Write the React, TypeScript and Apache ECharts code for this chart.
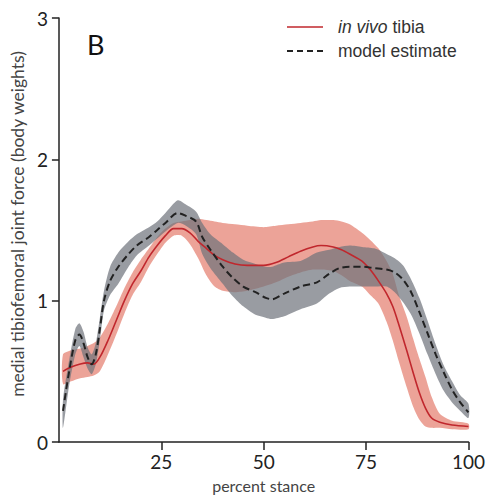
import React, { useEffect, useRef } from "react";
import * as echarts from "echarts";

// percent stance samples, in vivo tibia (mean and ±SD band)
const vivoStance = [1, 3, 5, 7, 8.5, 10, 12, 14, 16, 18, 20, 22, 24, 26, 28, 30, 32, 34, 36, 38, 40, 43, 46, 50, 53, 56, 59, 62, 64, 67, 69, 71, 74, 76, 78, 80, 81.5, 83, 85, 86.5, 88, 89.5, 91, 93, 96, 100];
const vivoMean = [0.50, 0.53, 0.55, 0.56, 0.55, 0.60, 0.72, 0.86, 1.00, 1.12, 1.21, 1.31, 1.39, 1.46, 1.51, 1.51, 1.48, 1.42, 1.37, 1.32, 1.29, 1.26, 1.25, 1.25, 1.27, 1.31, 1.35, 1.38, 1.39, 1.38, 1.36, 1.33, 1.28, 1.22, 1.14, 1.05, 0.96, 0.83, 0.64, 0.49, 0.35, 0.24, 0.17, 0.14, 0.12, 0.11];
const vivoUpper = [0.62, 0.65, 0.66, 0.68, 0.70, 0.74, 0.84, 0.96, 1.09, 1.20, 1.29, 1.37, 1.45, 1.51, 1.55, 1.56, 1.57, 1.58, 1.57, 1.56, 1.55, 1.54, 1.53, 1.52, 1.53, 1.54, 1.55, 1.56, 1.57, 1.57, 1.56, 1.54, 1.48, 1.43, 1.37, 1.28, 1.19, 1.04, 0.88, 0.73, 0.59, 0.46, 0.32, 0.20, 0.15, 0.13];
const vivoLower = [0.41, 0.43, 0.45, 0.46, 0.47, 0.50, 0.62, 0.76, 0.91, 1.04, 1.13, 1.24, 1.33, 1.41, 1.46, 1.46, 1.40, 1.30, 1.18, 1.10, 1.07, 1.06, 1.07, 1.10, 1.13, 1.17, 1.20, 1.22, 1.22, 1.21, 1.18, 1.14, 1.10, 1.04, 0.98, 0.85, 0.72, 0.57, 0.38, 0.25, 0.16, 0.11, 0.10, 0.10, 0.09, 0.09];

// percent stance samples, model estimate (mean and ±SD band)
const modelStance = [1, 2.5, 4, 5, 6, 7, 8, 9, 10, 11, 12.5, 14.5, 17, 19, 22, 24, 26, 29, 31, 33.5, 35, 37, 40, 42.5, 45, 48, 50.5, 52, 55, 59, 63, 66, 68.5, 71, 74, 77, 80, 82, 84, 86, 88, 90, 92, 94, 96, 98, 100];
const modelMean = [0.22, 0.50, 0.72, 0.76, 0.70, 0.60, 0.55, 0.62, 0.80, 1.00, 1.14, 1.24, 1.33, 1.39, 1.45, 1.50, 1.55, 1.62, 1.60, 1.56, 1.45, 1.36, 1.24, 1.16, 1.10, 1.06, 1.02, 1.01, 1.05, 1.10, 1.13, 1.19, 1.23, 1.24, 1.24, 1.23, 1.22, 1.20, 1.15, 1.06, 0.92, 0.77, 0.62, 0.49, 0.37, 0.28, 0.21];
const modelUpper = [0.30, 0.58, 0.80, 0.84, 0.78, 0.67, 0.62, 0.70, 0.88, 1.07, 1.24, 1.34, 1.42, 1.47, 1.52, 1.56, 1.62, 1.71, 1.68, 1.63, 1.55, 1.47, 1.40, 1.34, 1.29, 1.26, 1.24, 1.24, 1.27, 1.28, 1.34, 1.36, 1.38, 1.39, 1.38, 1.37, 1.33, 1.30, 1.25, 1.15, 1.02, 0.86, 0.69, 0.54, 0.43, 0.33, 0.27];
const modelLower = [0.10, 0.40, 0.62, 0.68, 0.60, 0.52, 0.48, 0.55, 0.72, 0.93, 1.04, 1.12, 1.24, 1.32, 1.39, 1.44, 1.49, 1.55, 1.53, 1.47, 1.33, 1.23, 1.12, 1.03, 0.96, 0.90, 0.88, 0.87, 0.89, 0.94, 0.98, 1.05, 1.09, 1.10, 1.10, 1.10, 1.10, 1.06, 0.99, 0.90, 0.77, 0.62, 0.48, 0.36, 0.28, 0.22, 0.17];

const xTicks = [25, 50, 75, 100];
const yTicks = [0, 1, 2, 3];
const seriesNames = ["in vivo tibia", "model estimate"];

const AXIS_FONT = "Lato, 'Open Sans', sans-serif";
const LEGEND_FONT = "'Liberation Sans', Arial, sans-serif";
const RED = "#c0272d";
const DARK = "#222";

function bandSeries(name: string, xs: number[], lo: number[], up: number[], fill: string, z: number) {
  return {
    type: "custom",
    name,
    silent: true,
    z,
    data: xs.map((x, i) => [x, lo[i], up[i]]),
    encode: { x: 0, y: [1, 2] },
    renderItem: (params: any, api: any) => {
      if (params.dataIndex !== 0) return null;
      const top = xs.map((x, i) => api.coord([x, up[i]]));
      const bottom = xs.map((x, i) => api.coord([x, lo[i]])).reverse();
      return {
        type: "polygon",
        shape: { points: top.concat(bottom), smooth: 0.25 },
        style: { fill },
      };
    },
  };
}

export default function App() {
  const ref = useRef<HTMLDivElement>(null);

  useEffect(() => {
    if (!ref.current) return;
    const chart = echarts.init(ref.current, undefined, { renderer: "svg" });

    const pairs = (xs: number[], ys: number[]) => xs.map((x, i) => [x, ys[i]]);

    chart.setOption({
      animation: false,
      backgroundColor: "#fff",
      grid: { left: 54, right: 18, top: 18, bottom: 56, containLabel: false },
      xAxis: {
        type: "value",
        min: 0,
        max: 100,
        interval: 25,
        name: "percent stance",
        nameLocation: "middle",
        nameGap: 35,
        nameTextStyle: { fontFamily: AXIS_FONT, fontSize: 16, color: "#444" },
        axisLine: { lineStyle: { color: DARK, width: 1.5 } },
        axisTick: { length: 8, lineStyle: { color: DARK, width: 1.5 } },
        axisLabel: {
          showMinLabel: false,
          margin: 10,
          fontFamily: AXIS_FONT,
          fontSize: 19,
          color: DARK,
          formatter: (v: number) => (xTicks.includes(v) ? String(v) : ""),
        },
        splitLine: { show: false },
      },
      yAxis: {
        type: "value",
        min: 0,
        max: 3,
        interval: 1,
        name: "medial tibiofemoral joint force (body weights)",
        nameLocation: "middle",
        nameGap: 30,
        nameTextStyle: { fontFamily: AXIS_FONT, fontSize: 17.5, color: "#444", padding: [0, 0, 0, 12] },
        axisLine: { show: true, lineStyle: { color: DARK, width: 1.5 } },
        axisTick: { show: true, length: 7, lineStyle: { color: DARK, width: 1.5 } },
        axisLabel: {
          margin: 11,
          fontFamily: AXIS_FONT,
          fontSize: 19,
          color: DARK,
          formatter: (v: number) => (yTicks.includes(v) ? String(v) : ""),
        },
        splitLine: { show: false },
      },
      graphic: [
        {
          type: "text",
          left: 87,
          top: 31,
          z: 100,
          style: { text: "B", fontFamily: AXIS_FONT, fontSize: 27, fill: "#111" },
        },
        {
          type: "line",
          z: 100,
          shape: { x1: 287, y1: 27, x2: 323, y2: 27 },
          style: { stroke: RED, lineWidth: 1.6 },
        },
        {
          type: "line",
          z: 100,
          shape: { x1: 287, y1: 51, x2: 323, y2: 51 },
          style: { stroke: DARK, lineWidth: 2, lineDash: [6, 4] },
        },
        {
          type: "text",
          z: 100,
          x: 338,
          y: 27,
          style: {
            text: "{it|in vivo} tibia",
            fontFamily: LEGEND_FONT,
            fontSize: 17.5,
            fill: "#333",
            verticalAlign: "middle",
            rich: { it: { fontStyle: "italic", fontFamily: LEGEND_FONT, fontSize: 17.5, fill: "#333" } },
          },
        },
        {
          type: "text",
          z: 100,
          x: 338,
          y: 51,
          style: {
            text: seriesNames[1],
            fontFamily: LEGEND_FONT,
            fontSize: 17.5,
            fill: "#333",
            verticalAlign: "middle",
          },
        },
      ],
      series: [
        bandSeries("vivoBand", vivoStance, vivoLower, vivoUpper, "rgba(225,110,92,0.63)", 1),
        bandSeries("modelBand", modelStance, modelLower, modelUpper, "rgba(110,114,122,0.7)", 2),
        {
          type: "line",
          name: seriesNames[0],
          data: pairs(vivoStance, vivoMean),
          symbol: "none",
          smooth: 0.3,
          lineStyle: { color: RED, width: 1.6 },
          itemStyle: { color: RED },
          z: 3,
        },
        {
          type: "line",
          name: seriesNames[1],
          data: pairs(modelStance, modelMean),
          symbol: "none",
          smooth: 0.3,
          lineStyle: { color: DARK, width: 2, type: [7, 4] },
          itemStyle: { color: DARK },
          z: 4,
        },
      ],
    });

    return () => chart.dispose();
  }, []);

  return (
    <div
      ref={ref}
      style={{ position: "fixed", left: 0, top: 0, width: 488, height: 498, background: "#fff" }}
    />
  );
}
